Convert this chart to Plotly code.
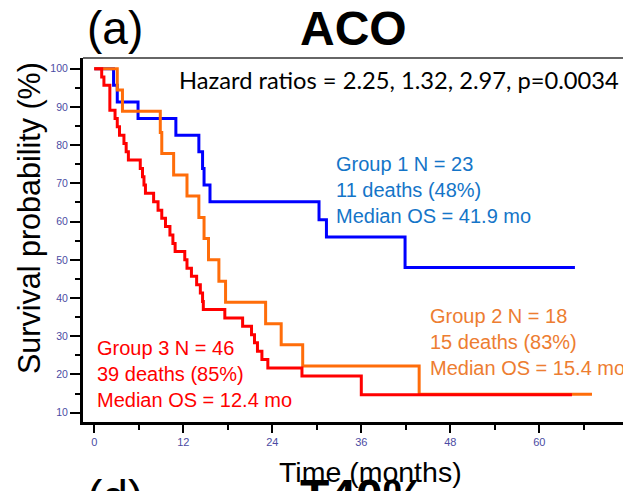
import plotly.graph_objects as go

# ---- data ----
blue_t = [0, 2.6, 3.1, 5.9, 11.0, 14.1, 14.6, 14.8, 15.6, 30.3, 31.3, 41.9, 64.8]
blue_s = [100, 95.7, 91.3, 87.0, 82.6, 78.3, 73.9, 69.6, 65.2, 60.5, 56.0, 48.0, 48.0]

orange_t = [0, 3.1, 3.8, 8.9, 9.1, 10.7, 12.5, 14.1, 14.8, 15.4, 16.8, 17.7, 23.1, 25.2, 28.1, 43.8, 67.1]
orange_s = [100, 94.4, 88.9, 83.3, 77.8, 72.2, 66.7, 61.1, 55.6, 50.0, 44.4, 38.9, 33.3, 27.8, 22.2, 14.8, 14.8]

red_t = [0, 1.0, 1.3, 2.1, 2.8, 3.1, 3.4, 4.0, 4.3, 4.6, 6.2, 6.5, 6.7, 6.9, 8.0, 8.6, 9.1, 9.6,
         10.2, 10.6, 10.9, 12.2, 12.5, 13.1, 13.8, 14.3, 14.6, 14.7, 17.6, 20.0, 21.2, 21.6, 22.0,
         22.6, 23.4, 28.0, 36.0, 64.4]
red_s = [100, 97.8, 95.7, 89.1, 87.0, 84.8, 82.6, 80.4, 78.3, 76.1, 73.9, 71.7, 69.6, 67.4, 65.2,
         63.0, 60.9, 58.7, 56.5, 54.3, 52.2, 50.0, 47.8, 45.7, 43.5, 41.3, 39.1, 37.0, 34.8, 32.6,
         30.4, 28.3, 26.1, 23.9, 21.7, 19.6, 14.7, 14.7]

x_ticks = [0, 12, 24, 36, 48, 60, 72]
y_ticks = [10, 20, 30, 40, 50, 60, 70, 80, 90, 100]

group1_text = "Group 1 N = 23<br>11 deaths (48%)<br>Median OS = 41.9 mo"
group2_text = "Group 2 N = 18<br>15 deaths (83%)<br>Median OS = 15.4 mo"
group3_text = "Group 3 N = 46<br>39 deaths (85%)<br>Median OS = 12.4 mo"
hazard_text = "Hazard ratios = 2.25, 1.32, 2.97, p=0.0034"

FONT = "Liberation Sans, Arial, sans-serif"
TICKCOL = "#4B4BA3"

# page body has an 8px default margin: the figure is placed at (8, 8)
OFF = 8
FIG_W, FIG_H = 631 - OFF, 491 - OFF

fig = go.Figure()
fig.add_trace(go.Scatter(x=blue_t, y=blue_s, mode="lines", line=dict(color="#0000FF", width=3, shape="hv")))
fig.add_trace(go.Scatter(x=orange_t, y=orange_s, mode="lines", line=dict(color="#FF6D0A", width=3, shape="hv")))
fig.add_trace(go.Scatter(x=red_t, y=red_s, mode="lines", line=dict(color="#FF0000", width=3, shape="hv")))

# plot area in screen pixels
L, T, W, H = 83, 58, 548, 364


def px(xp):
    return (xp - L) / W


def py(yp):
    return (T + H - yp) / H


annots = [
    dict(text="<b>ACO</b>", x=px(353), y=py(28), font=dict(size=48, color="black", family=FONT),
         xanchor="center", yanchor="middle"),
    dict(text="(a)", x=px(85), y=py(28), font=dict(size=46, color="black", family=FONT),
         xanchor="left", yanchor="middle"),
    dict(text=hazard_text, x=px(177), y=py(80), font=dict(size=23.7, color="black", family="Lato, Carlito, sans-serif"),
         xanchor="left", yanchor="middle"),
    dict(text=group1_text, x=px(334), y=py(190), font=dict(size=20, color="#1475C8", family=FONT),
         xanchor="left", yanchor="middle", align="left"),
    dict(text=group2_text, x=px(428), y=py(341.5), font=dict(size=20, color="#ED7D31", family=FONT),
         xanchor="left", yanchor="middle", align="left"),
    dict(text=group3_text, x=px(95), y=py(374), font=dict(size=20, color="#FF0000", family=FONT),
         xanchor="left", yanchor="middle", align="left"),
    dict(text="Survival probability (%)", x=px(29), y=py(218), textangle=-90,
         font=dict(size=30.5, color="black", family=FONT), xanchor="center", yanchor="middle"),
    dict(text="Time (months)", x=px(370), y=py(472), font=dict(size=28.5, color="black", family=FONT),
         xanchor="center", yanchor="middle"),
    dict(text="(d)", x=px(85), y=py(469), font=dict(size=46, color="black", family=FONT),
         xanchor="left", yanchor="top"),
    dict(text="<b>T40%</b>", x=px(298), y=py(468), font=dict(size=48, color="black", family=FONT),
         xanchor="left", yanchor="top"),
]
for a in annots:
    a.update(xref="paper", yref="paper", showarrow=False)

fig.update_layout(
    width=FIG_W, height=FIG_H,
    margin=dict(l=L - OFF, r=FIG_W - (L - OFF) - W, t=T - OFF, b=FIG_H - (T - OFF) - H),
    paper_bgcolor="white", plot_bgcolor="white",
    showlegend=False,
    annotations=annots,
    shapes=[dict(type="line", xref="paper", yref="paper", x0=0, x1=1, y0=1, y1=1,
                 line=dict(color="#333333", width=1.5))],
)
fig.update_xaxes(
    range=[-1.52, 72.36], tickvals=x_ticks, ticktext=[str(v) for v in x_ticks],
    showgrid=False, zeroline=False, showline=True, linecolor="black", linewidth=3,
    ticks="outside", ticklen=8, tickwidth=2, tickcolor="black",
    tickfont=dict(size=11, color=TICKCOL, family=FONT),
    minor=dict(tickvals=[6, 18, 30, 42, 54, 66], ticks="outside", ticklen=5, tickwidth=2, tickcolor="black"),
)
fig.update_yaxes(
    range=[7.57, 102.8], tickvals=y_ticks, ticktext=[str(v) for v in y_ticks],
    showgrid=False, zeroline=False, showline=True, linecolor="black", linewidth=3,
    ticks="outside", ticklen=10, tickwidth=2, tickcolor="black",
    tickfont=dict(size=10.5, color=TICKCOL, family=FONT),
    minor=dict(tickvals=[15, 25, 35, 45, 55, 65, 75, 85, 95], ticks="outside", ticklen=5, tickwidth=2, tickcolor="black"),
)

fig.write_html("out.html")
